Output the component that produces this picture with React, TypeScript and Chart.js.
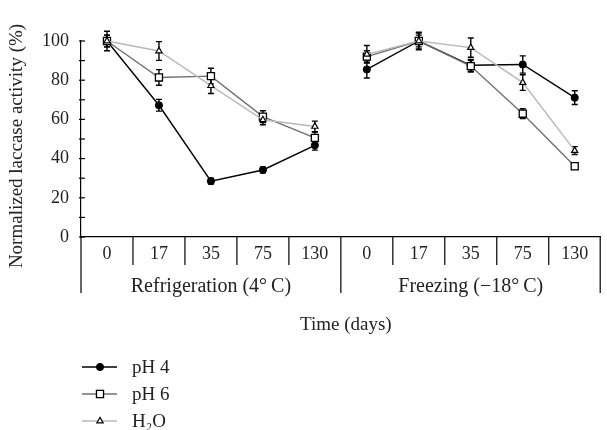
import React, { useEffect, useRef } from "react";
import { Chart, registerables } from "chart.js";
import { drawPoint } from "chart.js/helpers";

Chart.register(...registerables);

const categories = ["0", "17", "35", "75", "130", "0", "17", "35", "75", "130"];
const groupLabels = ["Refrigeration (4°\u2009C)", "Freezing (\u221218°\u2009C)"];
const yTickValues = [0, 20, 40, 60, 80, 100];
const yTitle = "Normalized laccase activity (%)";
const xTitle = "Time (days)";

const seriesNames = ["pH 4", "pH 6", "H₂O"];
const ph4Values = [100, 67.2, 28.5, 34.2, 46.8, 85.5, 100, 87.6, 88, 71.1];
const ph4Errors = [3, 3, 1.5, 1.5, 2.5, 4.4, 4, 3, 4.4, 3.5];
const ph6Values = [100, 81.4, 82.1, 61.4, 50.6, 92, 100, 87.2, 62.9, 36.1];
const ph6Errors = [3, 4, 4, 3, 3, 3, 3, 3, 2.5, 1.5];
const h2oValues = [100, 94.9, 77.2, 59.8, 56.4, 93.2, 100, 96.6, 78.8, 44.1];
const h2oErrors = [5, 4.8, 4, 2.5, 2.7, 4.5, 4.5, 4.9, 4, 2];

const FONT = "'Liberation Serif', 'DejaVu Serif', serif";
const TEXT = "#222";

const errorsByDataset = [ph4Errors, ph6Errors, h2oErrors];

const decorPlugin = {
  id: "decor",
  beforeDatasetsDraw(chart: any) {
    const ctx = chart.ctx;
    const y = chart.scales.y;
    ctx.save();
    ctx.strokeStyle = "#000";
    ctx.lineWidth = 1.4;
    chart.data.datasets.forEach((ds: any, di: number) => {
      const meta = chart.getDatasetMeta(di);
      const errs = errorsByDataset[di];
      meta.data.forEach((pt: any, i: number) => {
        const v = ds.data[i];
        if (v == null) return;
        const e = errs[i];
        const yt = y.getPixelForValue(v + e);
        const yb = y.getPixelForValue(v - e);
        const x = pt.x;
        ctx.beginPath();
        ctx.moveTo(x, yt);
        ctx.lineTo(x, yb);
        ctx.moveTo(x - 3, yt);
        ctx.lineTo(x + 3, yt);
        ctx.moveTo(x - 3, yb);
        ctx.lineTo(x + 3, yb);
        ctx.stroke();
      });
    });
    ctx.restore();
  },
  afterDraw(chart: any) {
    const ctx = chart.ctx;
    const xs = chart.scales.x;
    const ys = chart.scales.y;
    const area = chart.chartArea;
    ctx.save();
    ctx.strokeStyle = "#000";
    ctx.lineWidth = 1.2;
    // y inward ticks
    for (let v = 0; v <= 100; v += 10) {
      const py = ys.getPixelForValue(v);
      ctx.beginPath();
      ctx.moveTo(area.left - 2, py);
      ctx.lineTo(area.left + 4, py);
      ctx.stroke();
    }
    // x separators
    const n = categories.length;
    for (let i = 0; i <= n; i++) {
      let px: number;
      if (i === 0) px = area.left;
      else if (i === n) px = area.right - 0.5;
      else px = (xs.getPixelForValue(i - 1) + xs.getPixelForValue(i)) / 2;
      const long = i === 0 || i === n || i === n / 2;
      ctx.beginPath();
      ctx.moveTo(px, area.bottom);
      ctx.lineTo(px, area.bottom + (long ? 56 : 28));
      ctx.stroke();
    }
    // group labels
    ctx.fillStyle = TEXT;
    ctx.font = `20px ${FONT}`;
    ctx.textAlign = "center";
    ctx.textBaseline = "alphabetic";
    const half = n / 2;
    groupLabels.forEach((g, gi) => {
      const x0 = xs.getPixelForValue(gi * half);
      const x1 = xs.getPixelForValue(gi * half + half - 1);
      ctx.fillText(g, (x0 + x1) / 2, area.bottom + 55);
    });
    // x title
    ctx.font = `19px ${FONT}`;
    ctx.fillText(xTitle, (area.left + area.right) / 2 + 5, area.bottom + 93);
    // y title
    ctx.save();
    ctx.translate(22, 146);
    ctx.rotate(-Math.PI / 2);
    ctx.textBaseline = "alphabetic";
    ctx.fillText(yTitle, 0, 0);
    ctx.restore();
    // legend
    const rows = [367, 394, 421];
    chart.data.datasets.forEach((ds: any, di: number) => {
      const ry = rows[di];
      ctx.strokeStyle = ds.borderColor;
      ctx.lineWidth = ds.borderWidth;
      ctx.beginPath();
      ctx.moveTo(82, ry);
      ctx.lineTo(117, ry);
      ctx.stroke();
      ctx.fillStyle = ds.pointBackgroundColor;
      ctx.strokeStyle = ds.pointBorderColor;
      ctx.lineWidth = ds.pointBorderWidth;
      drawPoint(
        ctx,
        {
          pointStyle: ds.pointStyle,
          radius: ds.pointRadius,
          borderWidth: ds.pointBorderWidth,
          rotation: 0,
        } as any,
        100,
        ry
      );
      ctx.fillStyle = TEXT;
      ctx.font = `19px ${FONT}`;
      ctx.textAlign = "left";
      ctx.textBaseline = "middle";
      ctx.fillText(seriesNames[di], 132, ry + 1);
    });
    ctx.restore();
  },
};

export default function App() {
  const ref = useRef<HTMLCanvasElement | null>(null);
  useEffect(() => {
    document.body.style.margin = "0";
    const canvas = ref.current!;
    const gap = (ctx: any, color: string) =>
      ctx.p0DataIndex === categories.length / 2 - 1 ? "rgba(0,0,0,0)" : color;
    const chart = new Chart(canvas, {
      type: "line",
      data: {
        labels: categories,
        datasets: [
          {
            label: seriesNames[0],
            data: ph4Values,
            borderColor: "#000",
            borderWidth: 1.4,
            backgroundColor: "#000",
            pointStyle: "circle",
            pointRadius: 3.6,
            pointBorderWidth: 1,
            pointBackgroundColor: "#000",
            pointBorderColor: "#000",
            segment: { borderColor: (c: any) => gap(c, "#000") },
            clip: false,
            order: 2,
          } as any,
          {
            label: seriesNames[1],
            data: ph6Values,
            borderColor: "#707070",
            borderWidth: 1.4,
            backgroundColor: "#fff",
            pointStyle: "rect",
            pointRadius: 5,
            pointBorderWidth: 1.3,
            pointBackgroundColor: "#fff",
            pointBorderColor: "#000",
            segment: { borderColor: (c: any) => gap(c, "#707070") },
            clip: false,
            order: 1,
          } as any,
          {
            label: seriesNames[2],
            data: h2oValues,
            borderColor: "#b8b8b8",
            borderWidth: 1.4,
            backgroundColor: "#fff",
            pointStyle: "triangle",
            pointRadius: 3.6,
            pointBorderWidth: 1.2,
            pointBackgroundColor: "#fff",
            pointBorderColor: "#000",
            segment: { borderColor: (c: any) => gap(c, "#b8b8b8") },
            clip: false,
            order: 0,
          } as any,
        ],
      },
      options: {
        responsive: false,
        animation: false,
        layout: { padding: { top: 41, right: 1, left: 0, bottom: 0 } },
        plugins: { legend: { display: false }, tooltip: { enabled: false } },
        scales: {
          x: {
            type: "category",
            offset: true,
            grid: { display: false, drawTicks: false },
            border: { display: true, color: "#000", width: 1.2 },
            ticks: {
              color: TEXT,
              font: { family: FONT, size: 18 },
              padding: 6,
              maxRotation: 0,
              autoSkip: false,
            },
            afterFit: (s: any) => {
              s.height = 430 - 237;
            },
          },
          y: {
            min: 0,
            max: 100,
            afterBuildTicks: (s: any) => {
              s.ticks = yTickValues.map((v) => ({ value: v }));
            },
            grid: { display: false, drawTicks: false },
            border: { display: true, color: "#000", width: 1.2 },
            ticks: {
              color: TEXT,
              font: { family: FONT, size: 18 },
              padding: 12,
            },
            afterFit: (s: any) => {
              s.width = 81;
            },
          },
        },
      },
      plugins: [decorPlugin],
    });
    return () => chart.destroy();
  }, []);
  return (
    <div style={{ width: 607, height: 430 }}>
      <canvas ref={ref} width={607} height={430} style={{ width: 607, height: 430, display: "block" }} />
    </div>
  );
}
